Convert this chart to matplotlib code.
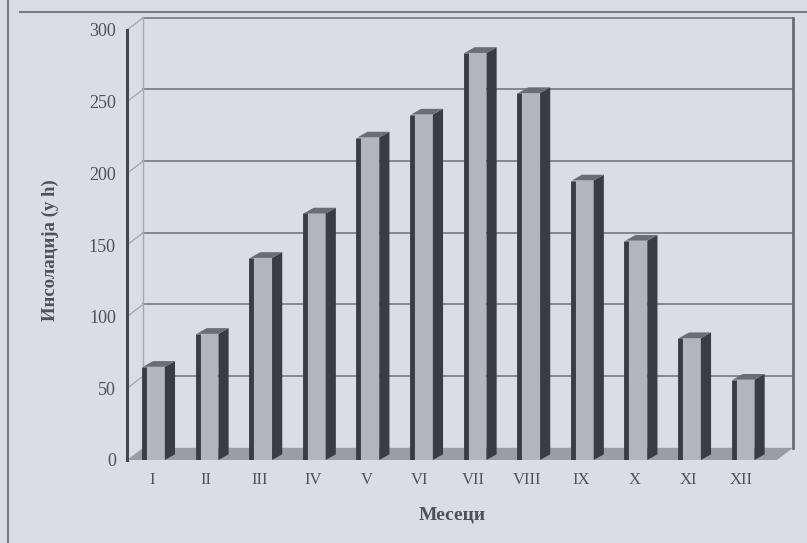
import numpy as np
import matplotlib
matplotlib.use("Agg")
import matplotlib.pyplot as plt
from matplotlib.patches import Polygon
from matplotlib.lines import Line2D

# data (hours of insolation per month)
months = ["I", "II", "III", "IV", "V", "VI", "VII", "VIII", "IX", "X", "XI", "XII"]
hours = [65, 88, 141, 172, 225, 241, 284, 256, 195, 153, 85, 56]
y_ticks = [0, 50, 100, 150, 200, 250, 300]

BG = "#dcdce6"
DARK = "#3b3b48"
FACE = "#b4b4be"
TOP = "#6c6c78"
GRID = "#80808a"
TXT = "#50505b"

plt.rcParams["font.family"] = ["Liberation Serif", "DejaVu Serif"]

fig = plt.figure(figsize=(8.07, 5.43), dpi=100, facecolor=BG)
ax = fig.add_axes([127 / 807, 83 / 543, 650 / 807, 430 / 543])
ax.set_facecolor("none")

xmin, xmax = -0.466, 11.66
ax.set_xlim(xmin, xmax)
ax.set_ylim(0, 300)

# depth of the walls (data units)
dx, dy = 0.30, 8.5

# floor
floor = Polygon([(xmin, 0), (xmax, 0), (xmax + dx, dy), (xmin + dx, dy)],
                closed=True, facecolor="#9c9ca6", edgecolor="none", zorder=1, clip_on=False)
ax.add_patch(floor)

# back wall grid lines and slanted connectors
for v in y_ticks[1:]:
    ax.plot([xmin + dx, xmax + dx], [v + dy, v + dy], color=GRID, lw=1.3, zorder=1, clip_on=False)
    ax.plot([xmin, xmin + dx], [v, v + dy], color="#a8a8b2", lw=1.0, zorder=1, clip_on=False)
# back wall edges
ax.plot([xmin + dx, xmin + dx], [dy, 300 + dy], color="#a8a8b2", lw=1.0, zorder=1, clip_on=False)
ax.plot([xmax + dx, xmax + dx], [dy, 300 + dy], color="#6a6a74", lw=2.0, zorder=1, clip_on=False)

# bars (front face, side face, top)
x = np.arange(len(months))
w = 0.41
off = 0.035
sx, sy = 0.19, 4.0
ax.bar(x + off, hours, width=w, color=FACE, edgecolor="none", zorder=3)
for xi, h in zip(x, hours):
    l = xi + off - w / 2
    r = xi + off + w / 2
    side = Polygon([(r, 0), (r + sx, sy), (r + sx, h + sy), (r, h)],
                   closed=True, facecolor=DARK, edgecolor="none", zorder=3)
    top = Polygon([(l, h), (r, h), (r + sx, h + sy), (l + sx, h + sy)],
                  closed=True, facecolor=TOP, edgecolor="none", zorder=3)
    ax.add_patch(side)
    ax.add_patch(top)
    ax.plot([l + 0.02, l + 0.02], [0, h], color=DARK, lw=3.5, zorder=4, solid_capstyle="butt")

# axes styling
for s in ["top", "right", "bottom"]:
    ax.spines[s].set_visible(False)
ax.spines["left"].set_color("#45454f")
ax.spines["left"].set_linewidth(2.2)
ax.set_yticks(y_ticks)
ax.set_yticklabels([str(t) for t in y_ticks])
ax.set_xticks(x)
ax.set_xticklabels(months)
ax.tick_params(axis="y", length=0, pad=8, labelsize=13, labelcolor=TXT)
ax.tick_params(axis="x", length=0, pad=9, labelsize=12, labelcolor=TXT)

fig.text(452 / 807, 1 - 515 / 543, "Месеци", ha="center", va="center",
         fontsize=14, fontweight="bold", color=TXT)
fig.text(50 / 807, 1 - 250 / 543, "Инсолација (у h)", ha="center", va="center",
         rotation=90, fontsize=13.5, fontweight="bold", color=TXT)

# scanned page frame
fig.add_artist(Line2D([8 / 807, 8 / 807], [0, 1], color="#7a7a84", lw=1.5))
fig.add_artist(Line2D([20 / 807, 1], [1 - 12 / 543, 1 - 12 / 543], color="#7a7a84", lw=1.5))

fig.savefig("out.png", dpi=100, facecolor=BG)
